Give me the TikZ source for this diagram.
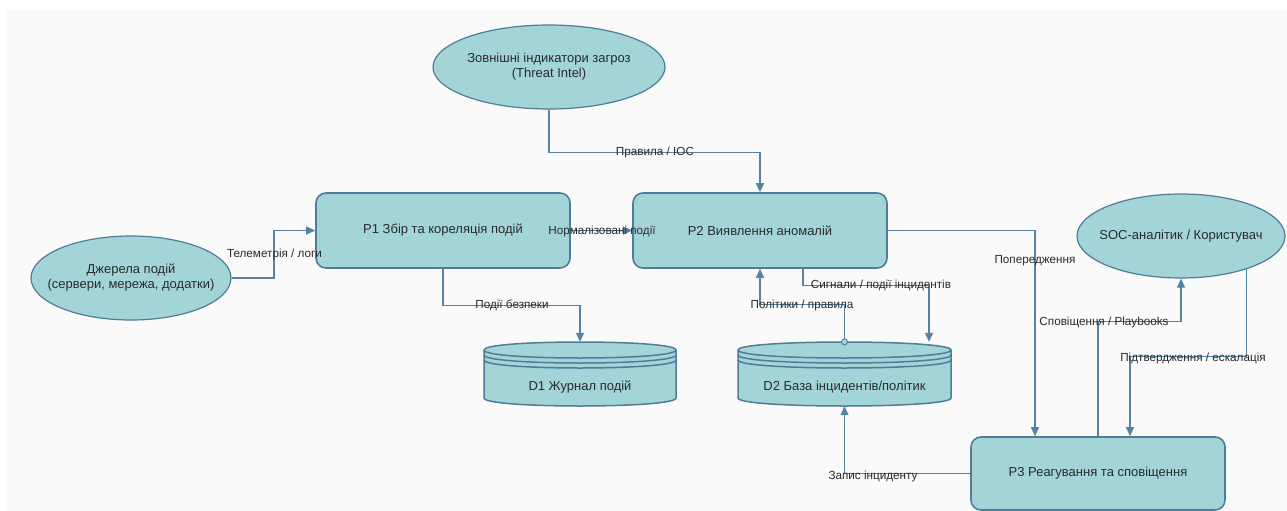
\documentclass[tikz,border=0pt]{standalone}
\usepackage{fontspec}
\setmainfont{Liberation Sans}
\usetikzlibrary{arrows.meta,calc,shapes.geometric}
\definecolor{bg}{HTML}{FAFAFA}
\definecolor{boxfill}{HTML}{A3D5D8}
\definecolor{boxline}{HTML}{4F7C98}
\definecolor{wire}{HTML}{5483A3}
\definecolor{ink}{HTML}{2A2A2A}

% Data store: a flat cylinder with a triple rim.
% #1 left, #2 right, #3 top, #4 bottom (y grows downwards)
\newcommand\datastore[4]{%
  \filldraw[draw=boxline, fill=boxfill, line width=1.5pt]
    (#1,#3+8) -- (#1,#4-8)
    .. controls (#1,#4+2.667) and (#2,#4+2.667) .. (#2,#4-8)
    -- (#2,#3+8)
    .. controls (#2,#3-2.667) and (#1,#3-2.667) .. cycle;
  \foreach \k in {0,5,10}{%
    \draw[draw=boxline, line width=1.5pt]
      (#1,#3+8+\k) .. controls (#1,#3+18.667+\k) and (#2,#3+18.667+\k) .. (#2,#3+8+\k);
  }%
}

\begin{document}
\begin{tikzpicture}[x=1pt,y=-1pt,
  txt/.style={font=\fontsize{13}{15}\selectfont, text=ink, align=center},
  proc/.style={txt, rectangle, rounded corners=10pt, draw=boxline, line width=1.6pt,
    fill=boxfill, minimum width=254pt, minimum height=75pt},
  ext/.style={ellipse, draw=boxline, line width=1.2pt, fill=boxfill, inner sep=0pt},
  store/.style={rectangle, inner sep=0pt, minimum height=64pt},
  flow/.style={draw=wire, line width=1.1pt, -{Triangle[length=9pt,width=8pt]}},
  lbl/.style={font=\fontsize{11.7}{13}\selectfont, text=ink, inner sep=1pt}
]
\useasboundingbox (0,0) rectangle (1287,511);
\fill[bg] (6,10) rectangle (1287,511);

% external entities (outline and caption set separately, so the caption
% does not widen the ellipse)
\node[ext, minimum width=232pt, minimum height=84pt] (intel) at (549,67) {};
\node[txt] (intelt) at (intel.center) {Зовнішні індикатори загроз\\(Threat Intel)};
\node[ext, minimum width=200pt, minimum height=84pt] (src) at (131,278) {};
\node[txt] (srct) at (src.center) {Джерела подій\\(сервери, мережа, додатки)};
\node[ext, minimum width=208pt, minimum height=84pt] (soc) at (1181,236) {};
\node[txt] (soct) at (soc.center) {SOC-аналітик / Користувач};

% processes
\node[proc] (p1) at (443,230.5) {P1 Збір та кореляція подій};
\node[proc] (p2) at (760,230.5) {P2 Виявлення аномалій};
\node[proc, minimum height=73pt] (p3) at (1098,473.5) {P3 Реагування та сповіщення};

% data stores
\datastore{484}{676}{342}{406}
\node[store, minimum width=192pt] (d1) at (580,374) {};
\node[txt] (d1t) at (580,387) {D1 Журнал подій};
\datastore{738}{951}{342}{406}
\node[store, minimum width=213pt] (d2) at (844.5,374) {};
\node[txt] (d2t) at (844.5,387) {D2 База інцидентів/політик};

% flows
\draw[flow] (intel.south) -- ++(0,43) -| (p2.north);
\node[lbl] (l1) at (655,152) {Правила / IOC};

\draw[flow] (src.east) -- (274,278) |- (p1.west);
\node[lbl] (l2) at (274.5,254) {Телеметрія / логи};

\draw[flow] (p1.east) -- (p2.west);
\node[lbl] (l3) at (602,231) {Нормалізовані події};

\draw[flow] (p1.south) -- ++(0,37) -| (d1.north);
\node[lbl] (l4) at (512,305) {Події безпеки};

\draw[flow] (d2.north) -- ++(0,-37) -| (p2.south);
\draw[draw=wire, line width=1pt, fill=boxfill] (d2.north) circle (3pt);
\node[lbl] (l5) at (802,305) {Політики / правила};

\draw[flow] ($(p2.south)+(43,0)$) -- ++(0,17) -| ($(d2.north)+(84.5,0)$);
\node[lbl] (l6) at (881,285) {Сигнали / події інцидентів};

\draw[flow] (p2.east) -| ($(p3.north)+(-63,0)$);
\node[lbl] (l7) at (1035,261) {Попередження};

\draw[flow] (p3.north) -- ++(0,-115) -| (soc.south);
\node[lbl] (l8) at (1104,322) {Сповіщення / Playbooks};

\draw[flow] (soc.-27) |- ($(p3.north)+(32,-80)$) -- ($(p3.north)+(32,0)$);
\node[lbl] (l9) at (1193,358) {Підтвердження / ескалація};

\draw[flow] (p3.west) -| (d2.south);
\node[lbl] (l10) at (873,476) {Запис інциденту};
\end{tikzpicture}
\end{document}
